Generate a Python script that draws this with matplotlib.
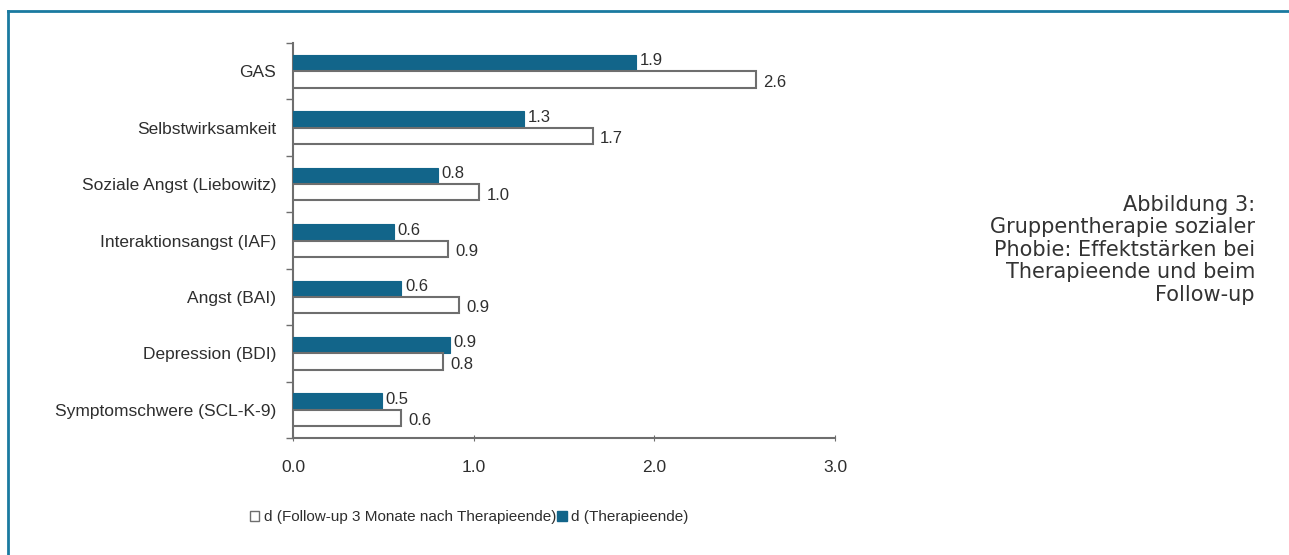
import matplotlib
matplotlib.use("Agg")
import matplotlib.pyplot as plt
from matplotlib.lines import Line2D
from matplotlib.patches import Patch
import numpy as np

categories = ["GAS", "Selbstwirksamkeit", "Soziale Angst (Liebowitz)",
              "Interaktionsangst (IAF)", "Angst (BAI)", "Depression (BDI)",
              "Symptomschwere (SCL-K-9)"]
therapieende = [1.90, 1.28, 0.80, 0.56, 0.60, 0.87, 0.49]
follow_up = [2.56, 1.66, 1.03, 0.86, 0.92, 0.83, 0.60]
xticks = [0.0, 1.0, 2.0, 3.0]
label_followup = "d (Follow-up 3 Monate nach Therapieende)"
label_therapie = "d (Therapieende)"
caption = "Abbildung 3:\nGruppentherapie sozialer\nPhobie: Effektstärken bei\nTherapieende und beim\nFollow-up"

dark = "#12658a"
edge = "#6e6e6e"
txtc = "#2e2e2e"
plt.rcParams['font.family'] = ['Liberation Sans', 'DejaVu Sans']

fig = plt.figure(figsize=(12.89, 5.55), dpi=100)
ax = fig.add_axes([0.2273, 0.2108, 0.4205, 0.7117])

n = len(categories)
y = np.arange(n)
h = 0.29
ax.barh(y - h / 2, therapieende, height=h, color=dark, edgecolor=dark, linewidth=0.8, zorder=3)
ax.barh(y + h / 2, follow_up, height=h, color="white", edgecolor=edge, linewidth=1.5, zorder=3)

fs = 12.5
for yi, v in zip(y, therapieende):
    ax.text(v + 0.02, yi - h / 2 - 0.04, f"{v:.1f}", va="center", ha="left", fontsize=fs - 0.5, color=txtc)
for yi, v in zip(y, follow_up):
    ax.text(v + 0.04, yi + h / 2 + 0.05, f"{v:.1f}", va="center", ha="left", fontsize=fs - 0.5, color=txtc)

ax.set_ylim(n - 0.5, -0.5)
ax.set_xlim(0, 3.0)
ax.set_yticks(y)
ax.set_yticklabels(categories, fontsize=fs, color=txtc)
ax.set_yticks(np.arange(n + 1) - 0.5, minor=True)
ax.tick_params(axis="y", which="major", length=0, pad=12)
ax.tick_params(axis="y", which="minor", length=5, color=edge, width=1)
ax.set_xticks(xticks)
ax.set_xticklabels([f"{t:.1f}" for t in xticks], fontsize=fs, color=txtc)
ax.tick_params(axis="x", length=4, color=edge, direction="inout", pad=14)
for s in ["top", "right"]:
    ax.spines[s].set_visible(False)
for s in ["left", "bottom"]:
    ax.spines[s].set_color(edge)
    ax.spines[s].set_linewidth(1.5)

handles = [Patch(facecolor="white", edgecolor=edge, linewidth=1),
           Patch(facecolor=dark, edgecolor=dark)]
fig.legend(handles, [label_followup, label_therapie], loc="center", bbox_to_anchor=(0.364, 0.068),
           ncol=2, frameon=False, fontsize=11, handlelength=0.6, handleheight=0.6,
           handletextpad=0.3, columnspacing=0.1, labelcolor=txtc)

fig.text(0.9736, 0.55, caption, ha="right", va="center", fontsize=15,
         family=["DejaVu Sans"], color="#333333", linespacing=1.15)

frame = "#1a7aa0"
fig.add_artist(Line2D([8 / 1289, 1.0], [1 - 11 / 555, 1 - 11 / 555], transform=fig.transFigure,
                      color=frame, linewidth=2))
fig.add_artist(Line2D([8 / 1289, 8 / 1289], [0, 1 - 11 / 555], transform=fig.transFigure,
                      color=frame, linewidth=2))

fig.savefig("out.png", dpi=100, facecolor="white")
